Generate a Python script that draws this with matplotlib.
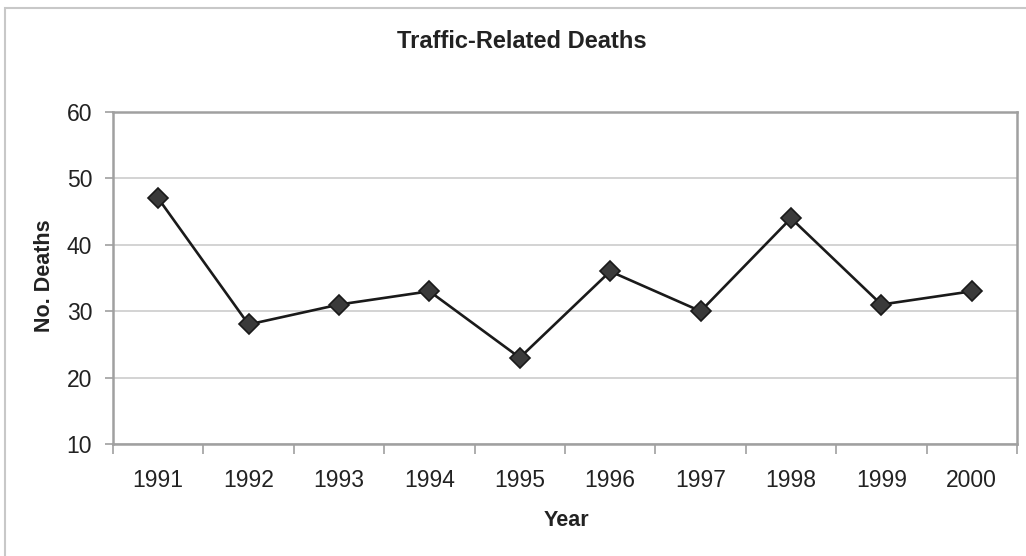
import numpy as np
import matplotlib
matplotlib.use("Agg")
from matplotlib import pyplot as plt
from matplotlib.patches import Rectangle

years = ["1991", "1992", "1993", "1994", "1995", "1996", "1997", "1998", "1999", "2000"]
deaths = [47, 28, 31, 33, 23, 36, 30, 44, 31, 33]
y_ticks = [10, 20, 30, 40, 50, 60]

plt.rcParams["font.family"] = ["Liberation Sans", "DejaVu Sans"]

W, H = 1026, 556
fig = plt.figure(figsize=(W / 100, H / 100), dpi=100, facecolor="white")
ax = fig.add_axes([113 / W, 1 - 444 / H, (1017 - 113) / W, (444 - 112) / H])

# outer chart border (only top/left visible, cropped on the right/bottom)
fig.patches.append(Rectangle((5 / W, -0.1), 1.2, 1 - 8 / H + 0.1, transform=fig.transFigure,
                             fill=False, edgecolor="#c8c8c8", linewidth=1.5))

x = np.arange(len(years))
ax.plot(x, deaths, color="#1a1a1a", linewidth=1.9, marker="D", markersize=10.5,
        markerfacecolor="#3a3a3a", markeredgecolor="#1a1a1a", markeredgewidth=1.2,
        zorder=3, clip_on=False)

ax.set_xlim(-0.5, len(years) - 0.5)
ax.set_ylim(10, 60)
ax.set_yticks(y_ticks)
ax.set_xticks(x)
ax.set_xticklabels(years)
ax.set_xticks(np.arange(-0.5, len(years)), minor=True)
ax.tick_params(axis="x", which="major", length=0, pad=18, labelsize=16.5, labelcolor="#222222")
ax.tick_params(axis="x", which="minor", length=7, width=1.2, color="#a0a0a0", direction="out")
ax.tick_params(axis="y", length=6, width=1.2, color="#a0a0a0", pad=9,
               labelsize=16.5, labelcolor="#222222")

ax.grid(axis="y", color="#cccccc", linewidth=1.2)
ax.set_axisbelow(True)
for s in ax.spines.values():
    s.set_color("#a0a0a0")
    s.set_linewidth(1.8)

fig.text(522 / W, 1 - 41 / H, "Traffic-Related Deaths", ha="center", va="center",
         fontsize=17, fontweight="bold", color="#222222")
fig.text(566 / W, 1 - 520 / H, "Year", ha="center", va="center",
         fontsize=15.5, fontweight="bold", color="#222222")
fig.text(44 / W, 1 - 276 / H, "No. Deaths", ha="center", va="center", rotation=90,
         fontsize=15.5, fontweight="bold", color="#222222")

fig.savefig("out.png", dpi=100, facecolor=fig.get_facecolor())
plt.close(fig)
